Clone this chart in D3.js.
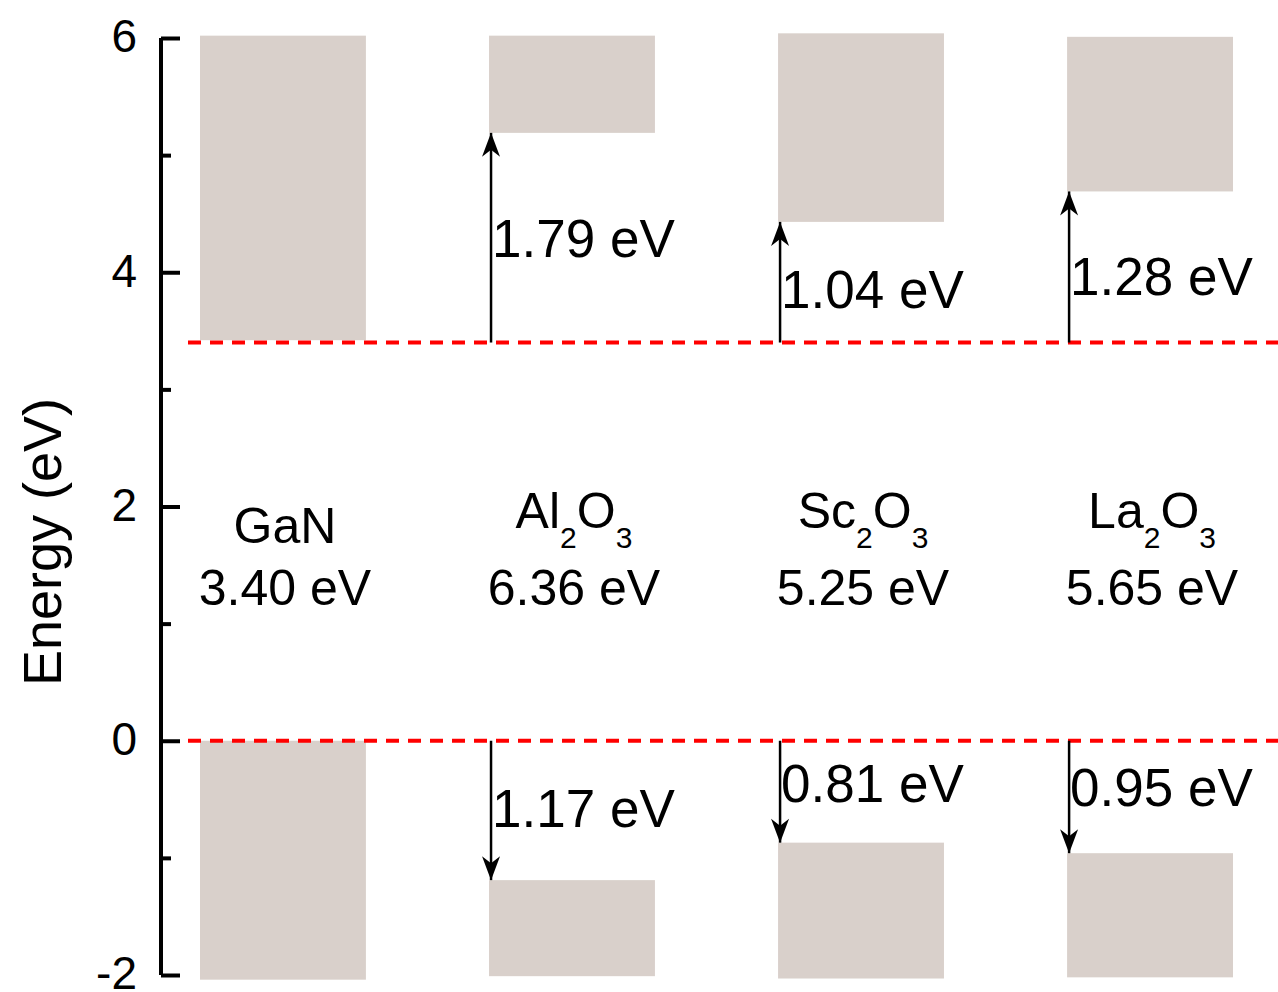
<!DOCTYPE html>
<html>
<head>
<meta charset="utf-8">
<script src="https://cdn.jsdelivr.net/npm/d3@7"></script>
<style>
  html, body { margin: 0; padding: 0; background: #fff; }
  svg { display: block; font-family: "Liberation Sans", Arial, sans-serif; }
</style>
</head>
<body>
<svg id="chart" width="1278" height="992"></svg>
<script>
// ---- data ----
const materials   = ["GaN", "Al2O3", "Sc2O3", "La2O3"];
const nameBase    = ["GaN", "Al", "Sc", "La"];
const nameSub1    = [null, "2", "2", "2"];
const nameMid     = [null, "O", "O", "O"];
const nameSub2    = [null, "3", "3", "3"];
const bandGaps    = ["3.40 eV", "6.36 eV", "5.25 eV", "5.65 eV"];
const cbTop       = [6.02, 6.02, 6.04, 6.01];
const cbBottom    = [3.42, 5.19, 4.43, 4.69];
const vbTop       = [0.00, -1.19, -0.87, -0.96];
const vbBottom    = [-2.04, -2.01, -2.03, -2.02];
const cbOffsets   = [null, "1.79 eV", "1.04 eV", "1.28 eV"];
const vbOffsets   = [null, "1.17 eV", "0.81 eV", "0.95 eV"];
const refCB = 3.40;   // GaN conduction band minimum
const refVB = 0.00;   // GaN valence band maximum
const majorTicks = [-2, 0, 2, 4, 6];
const minorTicks = [-1, 1, 3, 5];

// ---- layout ----
const svg = d3.select("#chart");
const y = d3.scaleLinear().domain([-2, 6]).range([975, 38]);
const x = d3.scaleBand().domain(materials).range([200, 1233]).paddingInner(0.426).paddingOuter(0);
const axisX = 161;
const barFill = "#d9d0cb";

// bars
const idx = d3.range(materials.length);
svg.append("g").selectAll("rect.cb").data(idx).join("rect")
  .attr("x", i => x(materials[i])).attr("width", x.bandwidth())
  .attr("y", i => y(cbTop[i])).attr("height", i => y(cbBottom[i]) - y(cbTop[i]))
  .attr("fill", barFill);
svg.append("g").selectAll("rect.vb").data(idx).join("rect")
  .attr("x", i => x(materials[i])).attr("width", x.bandwidth())
  .attr("y", i => y(vbTop[i])).attr("height", i => y(vbBottom[i]) - y(vbTop[i]))
  .attr("fill", barFill);

// dashed reference lines
svg.append("g").selectAll("line").data([refCB, refVB]).join("line")
  .attr("x1", 188).attr("x2", 1278)
  .attr("y1", d => y(d)).attr("y2", d => y(d))
  .attr("stroke", "#ff0000").attr("stroke-width", 4)
  .attr("stroke-dasharray", "13,9");

// arrow marker (points along +x, tip at origin)
const defs = svg.append("defs");
defs.append("marker").attr("id", "ah")
  .attr("viewBox", "-26 -11 28 22").attr("markerUnits", "userSpaceOnUse")
  .attr("markerWidth", 28).attr("markerHeight", 22)
  .attr("refX", 0).attr("refY", 0).attr("orient", "auto")
  .append("path").attr("d", "M0,0 L-24,-9 L-17,0 L-24,9 Z").attr("fill", "#000");

// arrows
const arrowIdx = idx.filter(i => cbOffsets[i] !== null);
const ax = i => x(materials[i]) + 2;
svg.append("g").selectAll("line").data(arrowIdx).join("line")
  .attr("x1", ax).attr("x2", ax)
  .attr("y1", y(refCB)).attr("y2", i => y(cbBottom[i]))
  .attr("stroke", "#000").attr("stroke-width", 2.5)
  .attr("marker-end", "url(#ah)");
svg.append("g").selectAll("line").data(arrowIdx).join("line")
  .attr("x1", ax).attr("x2", ax)
  .attr("y1", y(refVB)).attr("y2", i => y(vbTop[i]))
  .attr("stroke", "#000").attr("stroke-width", 2.5)
  .attr("marker-end", "url(#ah)");

// offset labels (baseline pixel positions)
const cbLabelY = { "Al2O3": 257, "Sc2O3": 308, "La2O3": 295 };
const vbLabelY = { "Al2O3": 827, "Sc2O3": 802, "La2O3": 806 };
svg.append("g").selectAll("text").data(arrowIdx).join("text")
  .attr("x", i => ax(i) + 1).attr("y", i => cbLabelY[materials[i]])
  .attr("font-size", 53).attr("fill", "#000")
  .text(i => cbOffsets[i]);
svg.append("g").selectAll("text").data(arrowIdx).join("text")
  .attr("x", i => ax(i) + 1).attr("y", i => vbLabelY[materials[i]])
  .attr("font-size", 53).attr("fill", "#000")
  .text(i => vbOffsets[i]);

// material names
const names = svg.append("g").selectAll("text").data(idx).join("text")
  .attr("x", i => x(materials[i]) + x.bandwidth() / 2 + 2)
  .attr("y", i => nameSub1[i] ? 528 : 543)
  .attr("text-anchor", "middle").attr("font-size", 50).attr("fill", "#000");
names.each(function(i) {
  const t = d3.select(this);
  t.append("tspan").text(nameBase[i]);
  if (nameSub1[i]) {
    t.append("tspan").attr("font-size", 30).attr("dy", 20).text(nameSub1[i]);
    t.append("tspan").attr("dy", -20).text(nameMid[i]);
    t.append("tspan").attr("font-size", 30).attr("dy", 20).text(nameSub2[i]);
  }
});
svg.append("g").selectAll("text").data(idx).join("text")
  .attr("x", i => x(materials[i]) + x.bandwidth() / 2 + 2)
  .attr("y", 605)
  .attr("text-anchor", "middle").attr("font-size", 50).attr("fill", "#000")
  .text(i => bandGaps[i]);

// y axis
const gAxis = svg.append("g").attr("transform", `translate(${axisX},0)`);
gAxis.call(d3.axisLeft(y).tickValues(majorTicks).tickSizeInner(-19).tickSizeOuter(0)
  .tickPadding(24).tickFormat(d => String(d)));
gAxis.select(".domain").attr("stroke-width", 4).attr("d", `M0,${y(6)}V${y(-2)}`);
gAxis.selectAll(".tick line").attr("stroke-width", 4);
gAxis.selectAll(".tick text").attr("font-size", 46).attr("dy", "0.3em")
  .attr("font-family", "Liberation Sans, Arial, sans-serif").attr("fill", "#000");
const gMinor = svg.append("g").attr("transform", `translate(${axisX},0)`);
gMinor.call(d3.axisLeft(y).tickValues(minorTicks).tickSizeInner(-10).tickSizeOuter(0).tickFormat(""));
gMinor.select(".domain").remove();
gMinor.selectAll(".tick line").attr("stroke-width", 4);

// y-axis title
svg.append("text")
  .attr("transform", "translate(61,542) rotate(-90)")
  .attr("text-anchor", "middle").attr("font-size", 54).attr("fill", "#000")
  .text("Energy (eV)");
</script>
</body>
</html>
